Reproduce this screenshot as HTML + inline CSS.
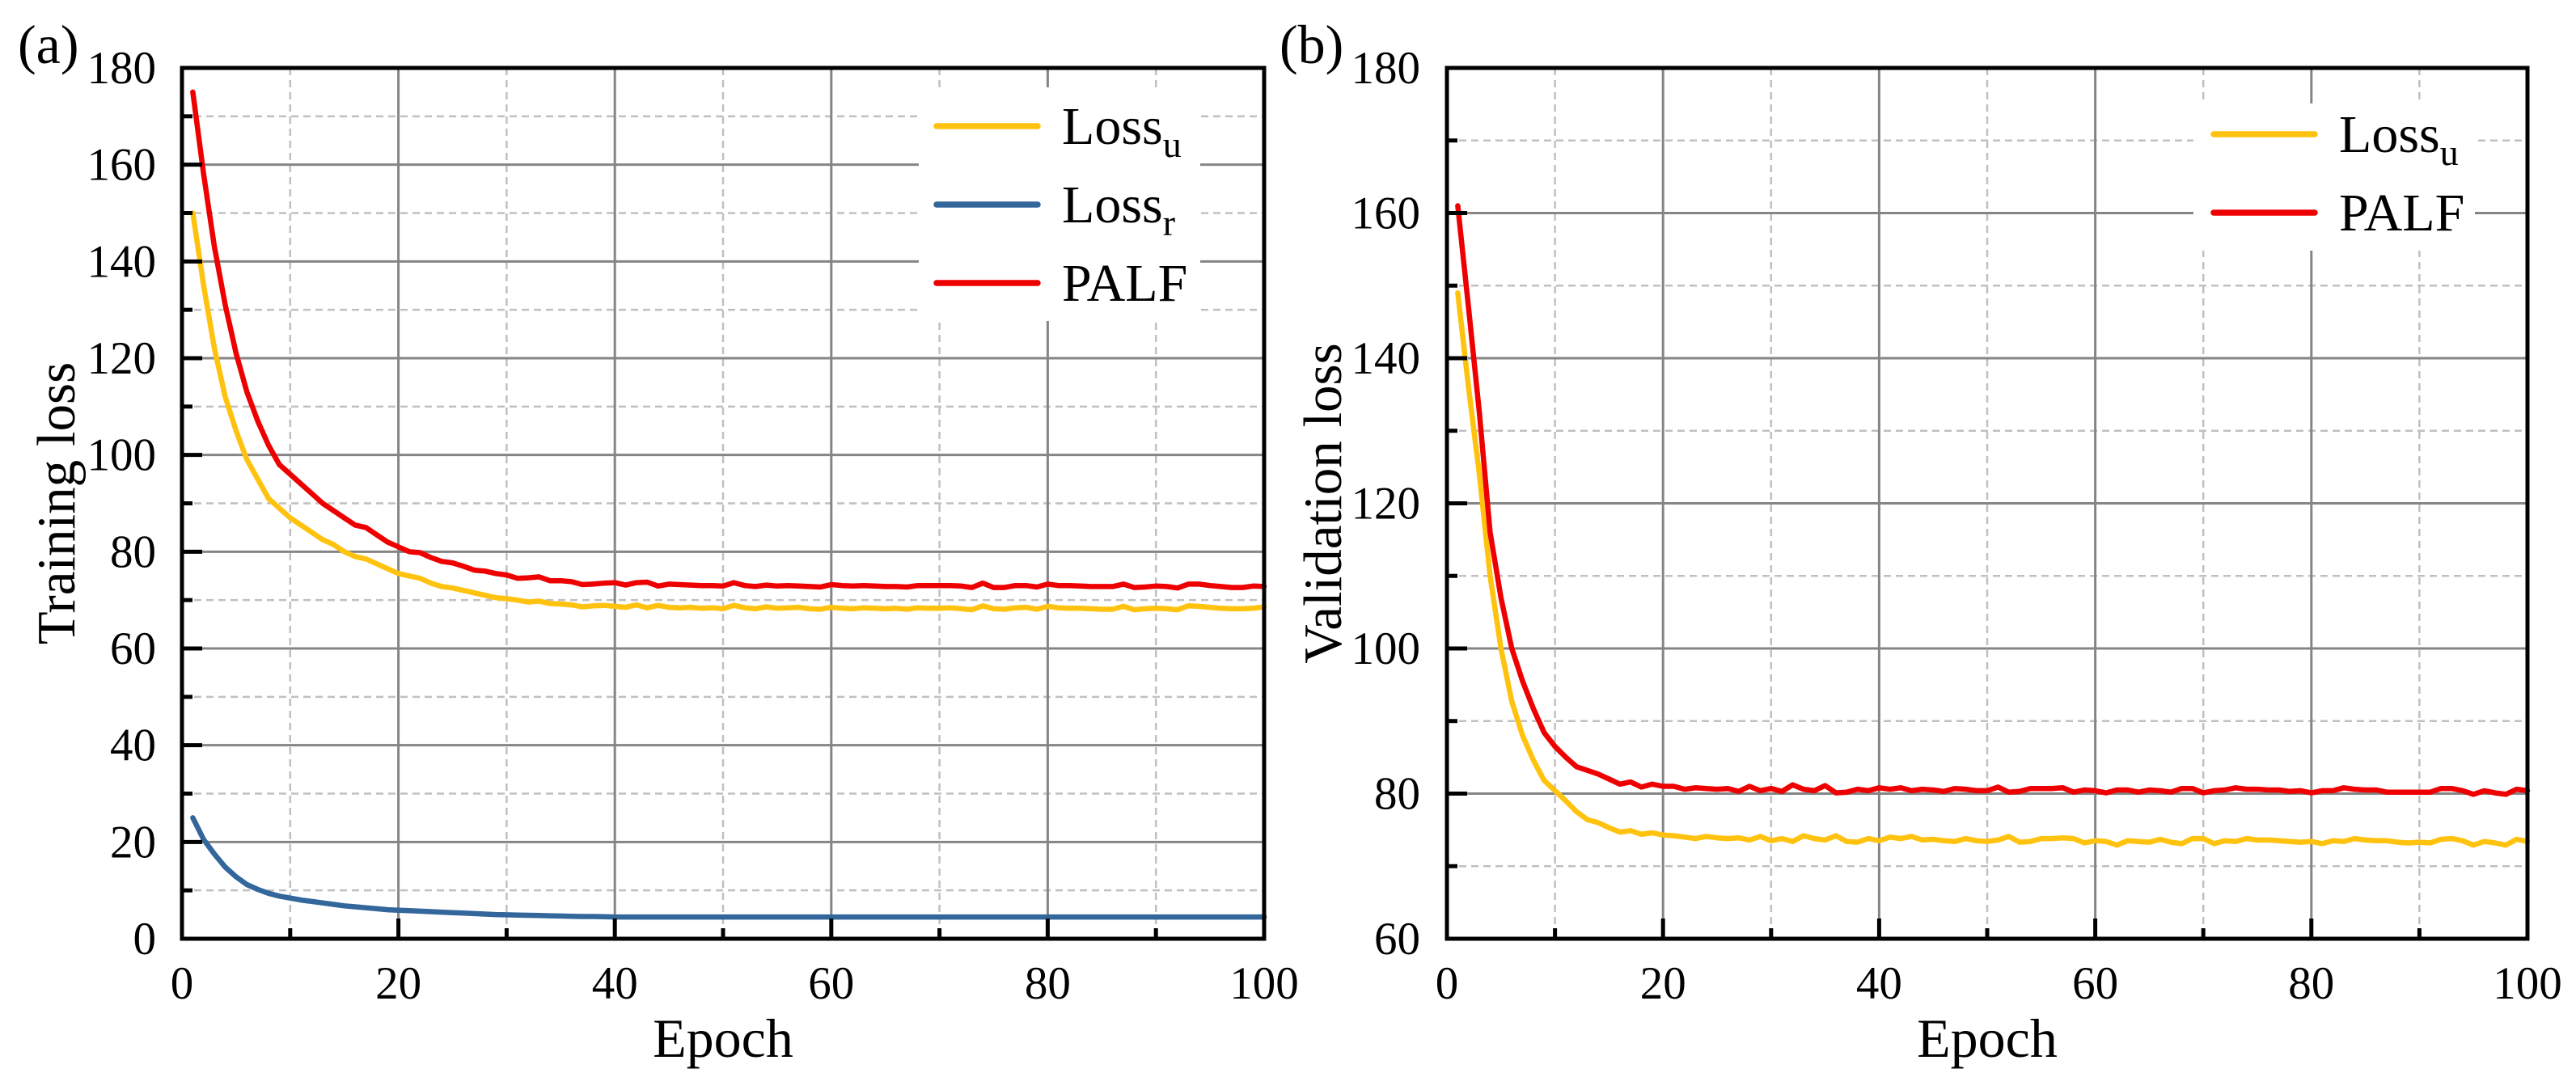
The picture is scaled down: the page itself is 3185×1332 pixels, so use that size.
<!DOCTYPE html>
<html><head><meta charset="utf-8"><style>
html,body{margin:0;padding:0;background:#fff;}
svg{display:block;font-family:"Liberation Serif",serif;}
</style></head><body>
<svg id="fig" width="3185" height="1332" viewBox="0 0 3185 1332" xmlns="http://www.w3.org/2000/svg"></svg>
<script>
const epochs = Array.from({length:100},(_, i)=>i+1);
const trainLossU = [150,135,122,112,105,99,95,91,89,87,85.5,84,82.5,81.5,80,79,78.5,77.5,76.5,75.5,75,74.5,73.5,72.8,72.5,72,71.5,71,70.5,70.3,70,69.6,69.8,69.3,69.2,69,68.6,68.8,68.9,68.7,68.5,69,68.4,68.9,68.5,68.4,68.5,68.3,68.4,68.2,68.9,68.4,68.2,68.6,68.3,68.4,68.5,68.2,68.1,68.5,68.3,68.2,68.4,68.3,68.2,68.3,68.1,68.4,68.3,68.3,68.4,68.2,68,68.8,68.2,68.1,68.4,68.5,68.1,68.7,68.4,68.3,68.3,68.2,68.1,68.1,68.7,68,68.2,68.3,68.2,68,68.8,68.7,68.5,68.3,68.2,68.2,68.3,68.6];
const trainLossR = [25,20.5,17.5,14.8,12.8,11.2,10.2,9.4,8.8,8.4,8,7.7,7.4,7.1,6.8,6.6,6.4,6.2,6,5.9,5.8,5.7,5.6,5.5,5.4,5.3,5.2,5.1,5,4.95,4.9,4.85,4.8,4.75,4.7,4.65,4.6,4.6,4.55,4.5,4.5,4.5,4.5,4.5,4.5,4.5,4.5,4.5,4.5,4.5,4.5,4.5,4.5,4.5,4.5,4.5,4.5,4.5,4.5,4.5,4.5,4.5,4.5,4.5,4.5,4.5,4.5,4.5,4.5,4.5,4.5,4.5,4.5,4.5,4.5,4.5,4.5,4.5,4.5,4.5,4.5,4.5,4.5,4.5,4.5,4.5,4.5,4.5,4.5,4.5,4.5,4.5,4.5,4.5,4.5,4.5,4.5,4.5,4.5,4.5];
const trainPALF = [175,158,143,131,121,113,107,102,98,96,94,92,90,88.5,87,85.5,85,83.5,82,81,80,79.8,78.8,78,77.7,77,76.2,76,75.5,75.2,74.5,74.6,74.8,74,74,73.8,73.2,73.3,73.5,73.6,73.1,73.6,73.7,72.9,73.3,73.2,73.1,73,73,72.9,73.6,73,72.8,73.1,72.9,73,72.9,72.8,72.7,73.2,73,72.9,73,72.9,72.8,72.8,72.7,73,73,73,73,72.9,72.6,73.5,72.6,72.6,73,73,72.7,73.3,73,73,72.9,72.8,72.8,72.8,73.3,72.6,72.7,72.9,72.8,72.5,73.3,73.3,73,72.8,72.6,72.6,72.9,72.8];
const valLossU = [149,136,124,110,100,92.7,88,84.6,81.8,80.4,79,77.5,76.4,76,75.3,74.7,74.9,74.4,74.6,74.3,74.2,74,73.8,74.1,73.9,73.8,73.9,73.6,74.1,73.5,73.8,73.4,74.2,73.8,73.6,74.2,73.4,73.3,73.8,73.5,74,73.8,74.1,73.6,73.7,73.5,73.4,73.8,73.5,73.4,73.6,74.1,73.3,73.4,73.8,73.8,73.9,73.8,73.2,73.5,73.4,72.9,73.5,73.4,73.3,73.7,73.3,73.1,73.8,73.8,73.1,73.5,73.4,73.8,73.6,73.6,73.5,73.4,73.3,73.4,73.1,73.5,73.4,73.8,73.6,73.5,73.5,73.3,73.2,73.3,73.2,73.7,73.8,73.5,72.9,73.4,73.2,72.9,73.7,73.4];
const valPALF = [161,147,132.5,116,107,100,95.5,91.7,88.4,86.5,85,83.7,83.2,82.7,82,81.3,81.6,80.9,81.3,81,81,80.6,80.8,80.7,80.6,80.7,80.3,81,80.4,80.7,80.3,81.2,80.6,80.4,81.1,80.1,80.2,80.6,80.4,80.8,80.6,80.8,80.4,80.6,80.5,80.3,80.7,80.6,80.4,80.4,80.9,80.2,80.3,80.7,80.7,80.7,80.8,80.2,80.5,80.4,80.1,80.5,80.5,80.2,80.5,80.4,80.2,80.7,80.7,80.1,80.4,80.5,80.8,80.6,80.6,80.5,80.5,80.3,80.4,80.1,80.4,80.4,80.8,80.6,80.5,80.5,80.2,80.2,80.2,80.2,80.2,80.7,80.7,80.4,79.9,80.4,80.1,79.9,80.6,80.4];
const xTicks = [0,20,40,60,80,100];
const yTicksA = [0,20,40,60,80,100,120,140,160,180];
const yTicksB = [60,80,100,120,140,160,180];

const NS = "http://www.w3.org/2000/svg";
const svg = document.getElementById('fig');
function mk(tag, attrs, parent){
  const e = document.createElementNS(NS, tag);
  for (const k in attrs) e.setAttribute(k, attrs[k]);
  (parent||svg).appendChild(e);
  return e;
}
const YEL="#FFC20E", BLU="#33669A", RED="#EE0000";

function panel(cfg){
  const g = mk('g',{});
  
  
  const L=cfg.L,R=cfg.R,T=84,B=1161;
  const xs = v => L + (v-0)/100*(R-L);
  const ys = v => B - (v-cfg.ymin)/(cfg.ymax-cfg.ymin)*(B-T);
  // minor grid
  for (let v=10; v<100; v+=20){
    const l = mk('line',{x1:xs(v),x2:xs(v),y1:T,y2:B,stroke:"#c0c0c0","stroke-width":2.5,"stroke-dasharray":"9 6"},g);
    
    
  }
  for (let v=cfg.ymin+10; v<cfg.ymax; v+=20){
    const l = mk('line',{x1:L,x2:R,y1:ys(v),y2:ys(v),stroke:"#c0c0c0","stroke-width":2.5,"stroke-dasharray":"9 6"},g);
    
    
  }
  // major grid
  xTicks.forEach(v=>{
    if(v===0||v===100) return;
    const l = mk('line',{x1:xs(v),x2:xs(v),y1:T,y2:B,stroke:"#858585","stroke-width":3},g);
    
    
  });
  cfg.yTicks.forEach(v=>{
    if(v===cfg.ymin||v===cfg.ymax) return;
    const l = mk('line',{x1:L,x2:R,y1:ys(v),y2:ys(v),stroke:"#858585","stroke-width":3},g);
    
    
  });
  // series
  cfg.series.forEach(s=>{
    const d = s.data.map((v,i)=>(i?'L':'M')+xs(epochs[i]).toFixed(1)+','+ys(v).toFixed(1)).join(' ');
    const p = mk('path',{d:d,fill:"none",stroke:s.color,"stroke-width":6.5,"stroke-linejoin":"round","stroke-linecap":"round"},g);
    
    
  });
  // legend
  const lg = mk('g',{},g);
  
  
  mk('rect',{x:cfg.lg.x,y:cfg.lg.y,width:cfg.lg.w,height:cfg.lg.h,fill:"#fff"},lg);
  cfg.series.forEach((s,i)=>{
    const yy = cfg.lg.row0 + i*97;
    const ln = mk('line',{x1:cfg.lg.lx,x2:cfg.lg.lx+125,y1:yy,y2:yy,stroke:s.color,"stroke-width":7.5,"stroke-linecap":"round"},lg);
    
    
    const t = mk('text',{x:cfg.lg.lx+155,y:yy+22,"font-size":66},lg);
    
    
    t.appendChild(document.createTextNode(s.label));
    if (s.sub){
      const ts = mk('tspan',{"font-size":46,dy:16},t);
      ts.textContent = s.sub;
    }
  });
  // frame
  const fr = mk('rect',{x:L,y:T,width:R-L,height:B-T,fill:"none",stroke:"#000","stroke-width":5},g);
  
  
  // ticks
  for (let v=0; v<=100; v+=10){
    const len = v%20===0?25:13;
    mk('line',{x1:xs(v),x2:xs(v),y1:B,y2:B-len,stroke:"#000","stroke-width":5},g);
  }
  for (let v=cfg.ymin; v<=cfg.ymax; v+=10){
    const len = (v-cfg.ymin)%20===0?25:13;
    mk('line',{x1:L,x2:L+len,y1:ys(v),y2:ys(v),stroke:"#000","stroke-width":5},g);
  }
  xTicks.forEach(v=>{
    const t = mk('text',{x:xs(v),y:1235,"font-size":57,"text-anchor":"middle"},g);
    
    
    t.textContent = v;
  });
  cfg.yTicks.forEach(v=>{
    const t = mk('text',{x:cfg.ytx,y:ys(v)+19,"font-size":57,"text-anchor":"end"},g);
    
    
    t.textContent = v;
  });
  const xt = mk('text',{x:(L+R)/2,y:1307,"font-size":68,"text-anchor":"middle"},g);
  
  
  xt.textContent = "Epoch";
  const yt = mk('text',{x:0,y:0,"font-size":67,"text-anchor":"middle",transform:`translate(${cfg.ytitleX},${(T+B)/2}) rotate(-90)`},g);
  
  
  yt.textContent = cfg.ytitle;
  const pl = mk('text',{x:cfg.px,y:78,"font-size":68},g);
  
  
  pl.textContent = cfg.plabel;
}

panel({name:'panel-a-training', L:225,R:1563,ymin:0,ymax:180,yTicks:yTicksA,ytx:193,ytitleX:92,ytitle:"Training loss",px:22,plabel:"(a)",
  lg:{x:1136,y:108,w:348,h:289,lx:1158,row0:156},
  series:[{name:'training-loss-u-line',data:trainLossU,color:YEL,label:"Loss",sub:"u"},
          {name:'training-loss-r-line',data:trainLossR,color:BLU,label:"Loss",sub:"r"},
          {name:'training-palf-line',data:trainPALF,color:RED,label:"PALF"}]});
panel({name:'panel-b-validation', L:1789,R:3125,ymin:60,ymax:180,yTicks:yTicksB,ytx:1756,ytitleX:1658,ytitle:"Validation loss",px:1582,plabel:"(b)",
  lg:{x:2712,y:128,w:348,h:182,lx:2737,row0:166},
  series:[{name:'validation-loss-u-line',data:valLossU,color:YEL,label:"Loss",sub:"u"},
          {name:'validation-palf-line',data:valPALF,color:RED,label:"PALF"}]});
</script>
</body></html>
